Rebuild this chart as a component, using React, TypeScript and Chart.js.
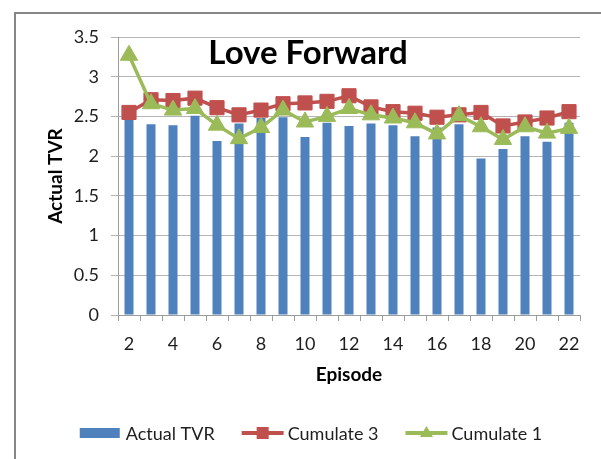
import React, { useEffect, useRef } from 'react';
import { Chart, registerables } from 'chart.js';

Chart.register(...registerables);

// ---- data ----
const episodes = ['2', '3', '4', '5', '6', '7', '8', '9', '10', '11', '12', '13', '14', '15', '16', '17', '18', '19', '20', '21', '22'];
const actualTVR = [2.47, 2.40, 2.39, 2.51, 2.19, 2.41, 2.48, 2.49, 2.24, 2.42, 2.38, 2.41, 2.39, 2.25, 2.36, 2.40, 1.97, 2.09, 2.25, 2.18, 2.42];
const cumulate3 = [2.55, 2.71, 2.70, 2.73, 2.61, 2.52, 2.58, 2.66, 2.67, 2.69, 2.76, 2.62, 2.56, 2.54, 2.49, 2.52, 2.55, 2.38, 2.43, 2.48, 2.56];
const cumulate1 = [3.27, 2.66, 2.58, 2.60, 2.39, 2.22, 2.36, 2.58, 2.43, 2.50, 2.60, 2.52, 2.48, 2.42, 2.28, 2.51, 2.37, 2.21, 2.37, 2.29, 2.35];
const seriesLabels = ['Actual TVR', 'Cumulate 3', 'Cumulate 1'];
const chartTitle = 'Love Forward';
const xTitle = 'Episode';
const yTitle = 'Actual TVR';
const yMin = 0;
const yMax = 3.5;
const yStep = 0.5;

// ---- styles ----
const BLUE = '#4F81BD';
const RED = '#C0504D';
const GREEN = '#9BBB59';
const FONT = 'Lato, "Open Sans", sans-serif';
const TEXT = '#1e1e1e';

const framePlugin = {
  id: 'frame',
  beforeDraw(chart: any) {
    const ctx = chart.ctx;
    ctx.save();
    ctx.fillStyle = '#ffffff';
    ctx.fillRect(0, 0, chart.width, chart.height);
    ctx.strokeStyle = '#868686';
    ctx.lineWidth = 2;
    ctx.strokeRect(15, 13, 620, 500);
    ctx.restore();
  },
};

const titlePlugin = {
  id: 'overlayTitle',
  afterDraw(chart: any) {
    const ctx = chart.ctx;
    ctx.save();
    ctx.font = `bold 33px ${FONT}`;
    ctx.fillStyle = '#000';
    ctx.textAlign = 'center';
    ctx.textBaseline = 'middle';
    ctx.fillText(chartTitle, 308, 53);
    ctx.restore();
  },
};

const legendPlugin = {
  id: 'customLegend',
  afterDraw(chart: any) {
    const ctx = chart.ctx;
    const ds = chart.data.datasets;
    ctx.save();
    ctx.font = `18px ${FONT}`;
    ctx.textBaseline = 'middle';
    ctx.textAlign = 'left';
    const symW = 42;
    const gapText = 4;
    const gapItem = 27;
    const widths = ds.map((d: any) => ctx.measureText(d.label).width);
    const total = widths.reduce((a: number, w: number) => a + symW + gapText + w, 0) + gapItem * (ds.length - 1);
    let x = 311 - total / 2;
    const y = 433;
    ds.forEach((d: any, i: number) => {
      const color = d.borderColor || d.backgroundColor;
      if (d.type === 'line') {
        ctx.strokeStyle = color;
        ctx.lineWidth = 4;
        ctx.beginPath();
        ctx.moveTo(x, y);
        ctx.lineTo(x + symW, y);
        ctx.stroke();
        ctx.fillStyle = color;
        const cx = x + symW / 2;
        if (d.pointStyle === 'rect') {
          ctx.fillRect(cx - 6, y - 6, 12, 12);
        } else {
          ctx.beginPath();
          ctx.moveTo(cx, y - 7);
          ctx.lineTo(cx + 6.5, y + 4);
          ctx.lineTo(cx - 6.5, y + 4);
          ctx.closePath();
          ctx.fill();
        }
      } else {
        ctx.fillStyle = d.backgroundColor;
        ctx.fillRect(x, y - 5, symW - 2, 10);
      }
      x += symW + gapText;
      ctx.fillStyle = TEXT;
      ctx.fillText(d.label, x, y + 1);
      x += widths[i] + gapItem;
    });
    ctx.restore();
  },
};

export default function App() {
  const ref = useRef<HTMLCanvasElement | null>(null);

  useEffect(() => {
    const prevMargin = document.body.style.margin;
    document.body.style.margin = '0';
    if (!ref.current) return;
    const chart = new Chart(ref.current, {
      type: 'bar',
      data: {
        labels: episodes,
        datasets: [
          {
            type: 'bar',
            label: seriesLabels[0],
            data: actualTVR,
            backgroundColor: BLUE,
            borderWidth: 0,
            barPercentage: 0.41,
            categoryPercentage: 1,
            order: 3,
          } as any,
          {
            type: 'line',
            label: seriesLabels[1],
            data: cumulate3,
            borderColor: RED,
            backgroundColor: RED,
            borderWidth: 3.5,
            pointStyle: 'rect',
            pointRadius: 10,
            pointBorderWidth: 1,
            pointBackgroundColor: RED,
            pointBorderColor: RED,
            fill: false,
            tension: 0,
            order: 2,
          } as any,
          {
            type: 'line',
            label: seriesLabels[2],
            data: cumulate1,
            borderColor: GREEN,
            backgroundColor: GREEN,
            borderWidth: 3.5,
            pointStyle: 'triangle',
            pointRadius: 10,
            pointBorderWidth: 1,
            pointBackgroundColor: GREEN,
            pointBorderColor: GREEN,
            fill: false,
            tension: 0,
            order: 1,
          } as any,
        ],
      },
      options: {
        responsive: false,
        animation: false,
        devicePixelRatio: 1,
        layout: { padding: { left: 0, top: 37, right: 21, bottom: 73 } },
        plugins: {
          legend: { display: false },
          title: { display: false },
          tooltip: { enabled: false },
        },
        scales: {
          x: {
            type: 'category',
            offset: true,
            afterFit: (scale: any) => {
              scale.height = 71;
            },
            grid: {
              display: true,
              drawOnChartArea: false,
              drawTicks: true,
              tickLength: 6,
              color: '#9c9c9c',
              offset: true,
            },
            border: { display: true, color: '#9c9c9c' },
            ticks: {
              autoSkip: false,
              maxRotation: 0,
              minRotation: 0,
              padding: 12,
              color: TEXT,
              font: { family: FONT, size: 18 },
              callback: (_v: any, i: number) => (Number(episodes[i]) % 2 === 0 ? episodes[i] : ''),
            },
            title: {
              display: true,
              text: xTitle,
              color: '#000',
              font: { family: FONT, size: 19, weight: 'bold' },
              padding: { top: 0, bottom: 0 },
            },
          },
          y: {
            min: yMin,
            max: yMax,
            afterFit: (scale: any) => {
              scale.width = 118;
            },
            grid: {
              color: '#b5b5b5',
              drawTicks: true,
              tickLength: 7,
            },
            border: { display: true, color: '#9c9c9c' },
            ticks: {
              stepSize: yStep,
              padding: 12,
              color: TEXT,
              font: { family: FONT, size: 18 },
              callback: (v: any) => String(Number(v)),
            },
            title: {
              display: true,
              text: yTitle,
              color: '#000',
              font: { family: FONT, size: 19, weight: 'bold' },
              padding: { top: 44, bottom: 0 },
            },
          },
        },
      } as any,
      plugins: [framePlugin, titlePlugin, legendPlugin],
    });
    return () => {
      chart.destroy();
      document.body.style.margin = prevMargin;
    };
  }, []);

  return (
    <div style={{ position: 'absolute', left: 0, top: 0, width: 601, height: 459, overflow: 'hidden' }}>
      <canvas ref={ref} width={601} height={459} style={{ display: 'block', width: 601, height: 459 }} />
    </div>
  );
}
